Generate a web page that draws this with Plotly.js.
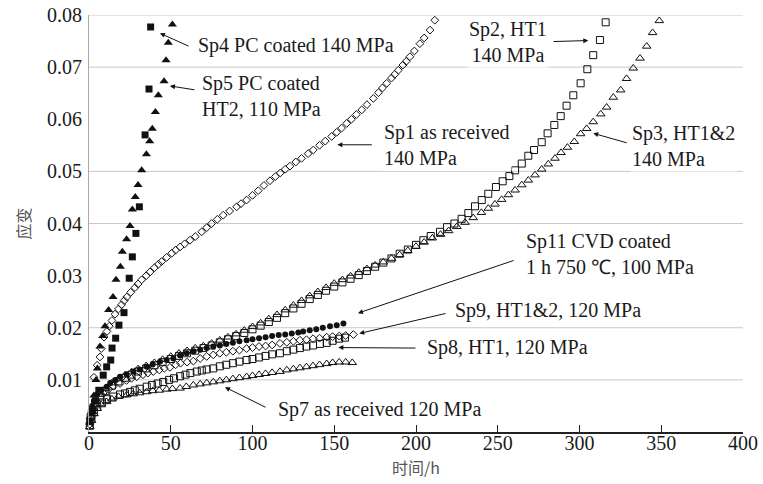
<!DOCTYPE html>
<html>
<head>
<meta charset="utf-8">
<script src="https://cdn.plot.ly/plotly-3.0.1.min.js"></script>
<style>html,body{margin:0;padding:0;background:#fff;}#chart{width:763px;height:484px;}</style>
</head>
<body>
<div id="chart"></div>
<script>
// ---------- DATA (time in h, strain) ----------
const sp4_h = [0.5, 2, 4, 6, 8.7, 10.8, 13.3, 14.1, 16.3, 18.3, 21.4, 24.6, 26.5, 28.7, 30.8, 34.3, 36.7, 37.7];
const sp4_e = [0.002, 0.004, 0.006, 0.008, 0.0109, 0.0125, 0.0138, 0.0161, 0.0180, 0.0205, 0.0229, 0.0295, 0.0336, 0.0381, 0.0432, 0.0570, 0.0658, 0.0777];

const sp5_h = [0.5, 1.5, 3, 4.3, 5.1, 6.7, 8.4, 9.8, 12, 14.7, 16.5, 19.2, 20.4, 23, 25.1, 26.5, 28.3, 30, 32.2, 35.1, 37.1, 38.7, 40.6, 42.4, 45.9, 47.1, 48.5, 51];
const sp5_e = [0.002, 0.004, 0.007, 0.0100, 0.0122, 0.0164, 0.0184, 0.0203, 0.0234, 0.0259, 0.0292, 0.0317, 0.0346, 0.0370, 0.0395, 0.0427, 0.0451, 0.0474, 0.0502, 0.0533, 0.0558, 0.0582, 0.0614, 0.0646, 0.0673, 0.0713, 0.0747, 0.0782];

const sp1_h = [3, 5, 6.7, 7.5, 9.2, 11, 12.4, 14, 15.9, 18, 19.9, 21.5, 23.1, 25.5, 28.1, 30, 32.2, 35, 37.3, 40, 42.5, 44.4, 47.5, 50.6, 53, 55.7, 58.5, 61.8, 65, 68.9, 72, 75, 78.5, 82.1, 86, 90.3, 93, 96.4, 100, 103.5, 107, 110.7, 114, 117, 120, 122.9, 126.5, 130, 134, 137.2, 141, 144.5, 148.4, 151.5, 154.5, 157.6, 160.5, 163.5, 166.8, 170, 173.9, 177, 179.5, 182.1, 185, 187, 189.2, 192, 194, 196.3, 199, 202.4, 205, 208.6, 211.5];
const sp1_e = [0.0105, 0.0128, 0.0144, 0.0160, 0.0182, 0.0193, 0.0203, 0.0214, 0.0226, 0.0236, 0.0244, 0.0252, 0.0259, 0.0268, 0.0277, 0.0284, 0.0292, 0.0300, 0.0307, 0.0315, 0.0322, 0.0327, 0.0335, 0.0343, 0.0349, 0.0355, 0.0361, 0.0368, 0.0375, 0.0384, 0.0392, 0.0400, 0.0408, 0.0416, 0.0424, 0.0432, 0.0438, 0.0445, 0.0454, 0.0463, 0.0473, 0.0482, 0.0490, 0.0497, 0.0504, 0.0510, 0.0518, 0.0525, 0.0534, 0.0541, 0.0550, 0.0558, 0.0567, 0.0575, 0.0583, 0.0592, 0.0600, 0.0609, 0.0618, 0.0628, 0.0640, 0.0651, 0.0660, 0.0669, 0.0679, 0.0686, 0.0694, 0.0704, 0.0711, 0.0720, 0.0731, 0.0745, 0.0756, 0.0771, 0.0790];

const sp2_h = [1, 2, 4, 7, 10, 14, 18, 22, 26, 30, 35, 40, 45, 50, 55, 60, 65, 70, 75, 80, 85, 90, 95, 100, 105, 110, 115, 120, 125, 130, 135, 140, 145, 150, 155, 160, 165, 170, 175, 180, 185, 190, 195, 200, 204.5, 209, 214.7, 219, 223.5, 227.9, 232, 236.1, 240.2, 244.2, 248.9, 253, 257.1, 260.6, 264.7, 268.7, 272.2, 276.9, 280.5, 284.6, 288.5, 292.1, 296.2, 300.7, 304.8, 308.4, 312.5, 316];
const sp2_e = [0.0028, 0.0042, 0.0055, 0.0068, 0.0079, 0.0089, 0.0097, 0.0104, 0.0110, 0.0116, 0.0122, 0.0128, 0.0134, 0.0140, 0.0146, 0.0151, 0.0156, 0.0161, 0.0166, 0.0172, 0.0178, 0.0184, 0.0190, 0.0197, 0.0204, 0.0211, 0.0219, 0.0228, 0.0237, 0.0246, 0.0255, 0.0263, 0.0271, 0.0279, 0.0287, 0.0294, 0.0301, 0.0309, 0.0317, 0.0325, 0.0333, 0.0342, 0.0350, 0.0359, 0.0368, 0.0376, 0.0384, 0.0393, 0.0400, 0.0409, 0.0420, 0.0433, 0.0445, 0.0457, 0.0470, 0.0481, 0.0491, 0.0502, 0.0515, 0.0530, 0.0541, 0.0556, 0.0573, 0.0589, 0.0606, 0.0626, 0.0646, 0.0669, 0.0696, 0.0723, 0.0752, 0.0786];

const sp3_h = [1, 2, 4, 7, 10, 14, 18, 22, 26, 30, 35, 40, 45, 50, 55, 60, 65, 70, 75, 80, 85, 90, 95, 100, 105, 110, 115, 120, 125, 130, 135, 140, 145, 150, 155, 160, 165, 170, 175, 180, 185, 190, 195, 200, 205, 210, 215, 220, 225, 230, 235, 240, 244.2, 248.3, 252.4, 256.5, 260.6, 264.7, 268.7, 272.8, 276.9, 280.9, 285, 288.7, 292.6, 296.8, 300.7, 304.4, 308.4, 313, 316.6, 320.7, 325.2, 328.8, 332.9, 337, 341.1, 344.7, 348.8];
const sp3_e = [0.0030, 0.0045, 0.0058, 0.0072, 0.0083, 0.0094, 0.0102, 0.0109, 0.0115, 0.0121, 0.0127, 0.0133, 0.0139, 0.0145, 0.0151, 0.0156, 0.0161, 0.0165, 0.0170, 0.0176, 0.0182, 0.0188, 0.0195, 0.0202, 0.0209, 0.0217, 0.0225, 0.0234, 0.0243, 0.0252, 0.0261, 0.0269, 0.0277, 0.0285, 0.0292, 0.0299, 0.0306, 0.0313, 0.0320, 0.0326, 0.0333, 0.0340, 0.0348, 0.0356, 0.0364, 0.0372, 0.0379, 0.0386, 0.0394, 0.0402, 0.0411, 0.0421, 0.0429, 0.0437, 0.0446, 0.0455, 0.0464, 0.0474, 0.0483, 0.0493, 0.0504, 0.0514, 0.0525, 0.0536, 0.0546, 0.0557, 0.0572, 0.0582, 0.0595, 0.0610, 0.0623, 0.0642, 0.0656, 0.0678, 0.0698, 0.0717, 0.0740, 0.0766, 0.0789];

const sp11_h = [0.5, 1, 2, 3, 5, 7.5, 10.8, 13, 16, 19, 23, 27.1, 31, 35.3, 39, 43.4, 47.5, 51.6, 55.7, 59.8, 64, 68, 72, 76, 80, 84, 88, 92, 96.4, 100, 104, 108, 112, 116, 120, 124, 128, 131, 135, 139, 143, 147.4, 151.5, 155.6];
const sp11_e = [0.0020, 0.0035, 0.0050, 0.0060, 0.0072, 0.0080, 0.0087, 0.0094, 0.0100, 0.0106, 0.0111, 0.0116, 0.0120, 0.0125, 0.0130, 0.0135, 0.0138, 0.0141, 0.0147, 0.0151, 0.0155, 0.0158, 0.0161, 0.0164, 0.0166, 0.0169, 0.0171, 0.0174, 0.0176, 0.0178, 0.0180, 0.0182, 0.0184, 0.0186, 0.0187, 0.0189, 0.0191, 0.0193, 0.0195, 0.0197, 0.0200, 0.0203, 0.0205, 0.0208];

const sp9_h = [0.5, 1.5, 3, 5, 8.7, 12, 15, 19, 23, 26, 29.2, 33, 36, 39.3, 43, 46, 49.5, 53, 56, 60, 63.8, 68, 72, 76, 80, 84, 88, 92, 96.4, 100, 104, 108, 112, 116.8, 121, 125, 129, 133, 137, 141, 145.4, 149, 153, 157, 161.7];
const sp9_e = [0.0015, 0.0030, 0.0045, 0.0058, 0.0075, 0.0082, 0.0088, 0.0093, 0.0099, 0.0103, 0.0106, 0.0110, 0.0113, 0.0116, 0.0119, 0.0122, 0.0124, 0.0129, 0.0132, 0.0134, 0.0136, 0.0141, 0.0145, 0.0148, 0.0151, 0.0153, 0.0155, 0.0157, 0.0160, 0.0162, 0.0164, 0.0165, 0.0167, 0.0170, 0.0172, 0.0174, 0.0176, 0.0177, 0.0179, 0.0180, 0.0182, 0.0183, 0.0184, 0.0185, 0.0187];

const sp8_h = [0.5, 1.5, 3, 5, 8, 11, 14.9, 19, 22, 25, 28, 31, 35.3, 38.5, 42, 45.4, 49, 52, 55.7, 59, 62, 65.9, 69, 72, 76, 80, 84, 88, 92, 96.4, 100, 104, 108, 112, 116.8, 121, 125, 129, 133, 137, 141.3, 145.4, 149, 153, 156.6];
const sp8_e = [0.0012, 0.0025, 0.0038, 0.0048, 0.0057, 0.0063, 0.0068, 0.0072, 0.0074, 0.0077, 0.0080, 0.0083, 0.0087, 0.0090, 0.0093, 0.0096, 0.0100, 0.0103, 0.0107, 0.0110, 0.0113, 0.0116, 0.0118, 0.0120, 0.0122, 0.0126, 0.0129, 0.0132, 0.0135, 0.0138, 0.0140, 0.0143, 0.0146, 0.0149, 0.0151, 0.0155, 0.0158, 0.0161, 0.0164, 0.0166, 0.0169, 0.0171, 0.0175, 0.0179, 0.0181];

const sp7_h = [0.5, 1.5, 3, 5, 7.5, 10.8, 14, 18, 23.1, 27, 31, 35.3, 39, 43, 47.5, 51, 55.7, 59.5, 63.8, 68, 72, 76, 80, 84, 88, 92, 96.4, 100, 104, 108, 112, 116.8, 121, 125, 129, 133, 137, 141, 145.4, 149, 153, 157, 161];
const sp7_e = [0.0010, 0.0022, 0.0035, 0.0045, 0.0052, 0.0058, 0.0063, 0.0068, 0.0071, 0.0073, 0.0075, 0.0077, 0.0079, 0.0080, 0.0082, 0.0083, 0.0084, 0.0087, 0.0090, 0.0092, 0.0094, 0.0096, 0.0098, 0.0100, 0.0102, 0.0104, 0.0106, 0.0108, 0.0110, 0.0112, 0.0114, 0.0116, 0.0119, 0.0121, 0.0123, 0.0125, 0.0127, 0.0129, 0.0131, 0.0133, 0.0134, 0.0134, 0.0133];

const xTicks = [0, 50, 100, 150, 200, 250, 300, 350, 400];
const yTicks = [0.01, 0.02, 0.03, 0.04, 0.05, 0.06, 0.07, 0.08];
const yTickText = ['0.01', '0.02', '0.03', '0.04', '0.05', '0.06', '0.07', '0.08'];
const xTitle = '时间/h';
const yTitle = '应变';

// ---------- STYLE ----------
const INK = '#111';
function openMk(symbol, size) { return {symbol: symbol, size: size, color: INK, line: {color: INK, width: 1}}; }
function fillMk(symbol, size) { return {symbol: symbol, size: size, color: INK, line: {color: INK, width: 0}}; }
function tr(x, y, marker) { return {x: x, y: y, type: 'scatter', mode: 'markers', marker: marker, hoverinfo: 'skip', cliponaxis: false}; }

const traces = [
  tr(sp7_h, sp7_e, openMk('triangle-up-open', 7.5)),
  tr(sp8_h, sp8_e, openMk('square-open', 7)),
  tr(sp9_h, sp9_e, openMk('diamond-open', 6)),
  tr(sp11_h, sp11_e, fillMk('circle', 6)),
  tr(sp2_h, sp2_e, openMk('square-open', 7)),
  tr(sp3_h, sp3_e, openMk('triangle-up-open', 7.5)),
  tr(sp1_h, sp1_e, openMk('diamond-open', 6)),
  tr(sp4_h, sp4_e, fillMk('square', 7)),
  tr(sp5_h, sp5_e, fillMk('triangle-up', 8))
];

const SERIF = 'Liberation Serif, Times New Roman, serif';
const TXT = {family: SERIF, size: 20, color: '#1a1a1a'};

function label(text, x, y, xanchor, align) {
  return {text: text, x: x, y: y, xref: 'x', yref: 'y', showarrow: false, xanchor: xanchor || 'left', yanchor: 'middle',
          align: align || 'left', font: TXT, bgcolor: '#ffffff', borderpad: 1};
}
function arrow(hx, hy, tx, ty) {
  return {text: '', x: hx, y: hy, ax: tx, ay: ty, xref: 'x', yref: 'y', axref: 'x', ayref: 'y', showarrow: true,
          arrowhead: 2, arrowsize: 1, arrowwidth: 1, arrowcolor: INK, standoff: 0, startstandoff: 0};
}

const annotations = [
  label('Sp4 PC coated 140 MPa', 65.4, 0.0741),
  arrow(43.4, 0.0765, 61.8, 0.0739),
  label('Sp5 PC coated<br>HT2, 110 MPa', 67.9, 0.0645),
  arrow(49.5, 0.0664, 65.4, 0.0656),
  label('Sp1 as received<br>140 MPa', 179, 0.0551),
  arrow(151.9, 0.0551, 173.9, 0.0551),
  label('Sp2, HT1<br>140 MPa', 256.3, 0.0749, 'center', 'center'),
  arrow(305.4, 0.0751, 283.2, 0.0749),
  label('Sp3, HT1&amp;2<br>140 MPa', 330.9, 0.0549),
  arrow(308.4, 0.0573, 329.8, 0.0554),
  label('Sp11 CVD coated<br>1 h 750 ℃, 100 MPa', 266, 0.0341),
  arrow(164.5, 0.0228, 260.6, 0.0330),
  label('Sp9, HT1&amp;2, 120 MPa', 222.6, 0.0234),
  arrow(165.3, 0.0189, 219, 0.0228),
  label('Sp8, HT1, 120 MPa', 205.5, 0.0163),
  arrow(152.5, 0.0162, 200.6, 0.0161),
  label('Sp7 as received 120 MPa', 114.4, 0.0044),
  arrow(83.2, 0.0086, 108.9, 0.0046)
];

const gridVals = [0.01, 0.02, 0.04, 0.05, 0.07, 0.08];
const shapes = gridVals.map(v => ({type: 'line', xref: 'paper', x0: 0, x1: 1, yref: 'y', y0: v, y1: v,
  line: {color: '#c9c9c9', width: 1}, layer: 'below'}));

const layout = {
  width: 763, height: 484,
  margin: {l: 89, r: 20, t: 15, b: 52},
  paper_bgcolor: '#ffffff', plot_bgcolor: '#ffffff',
  showlegend: false,
  font: {family: SERIF, size: 20, color: '#1a1a1a'},
  xaxis: {
    range: [0, 400], tickvals: xTicks, ticktext: xTicks.map(String),
    ticks: 'inside', ticklen: 7, tickwidth: 1, tickcolor: '#222',
    showline: true, linecolor: '#222', linewidth: 1.6,
    showgrid: false, zeroline: false, ticklabelstandoff: -8,
    tickfont: {family: SERIF, size: 20, color: '#1a1a1a'},
    title: {text: xTitle, font: {family: 'Noto Sans CJK SC', size: 16, color: '#555'}, standoff: 10}
  },
  yaxis: {
    range: [0, 0.08], tickvals: yTicks, ticktext: yTickText,
    ticks: '', showline: true, linecolor: '#a8a8a8', linewidth: 1,
    showgrid: false, zeroline: false, ticklabelstandoff: 2,
    tickfont: {family: SERIF, size: 20, color: '#1a1a1a'},
    title: {text: yTitle, font: {family: 'Noto Sans CJK SC', size: 16, color: '#555'}, standoff: 12}
  },
  shapes: shapes,
  annotations: annotations
};

Plotly.newPlot('chart', traces, layout, {staticPlot: true, displayModeBar: false});
</script>
</body>
</html>
